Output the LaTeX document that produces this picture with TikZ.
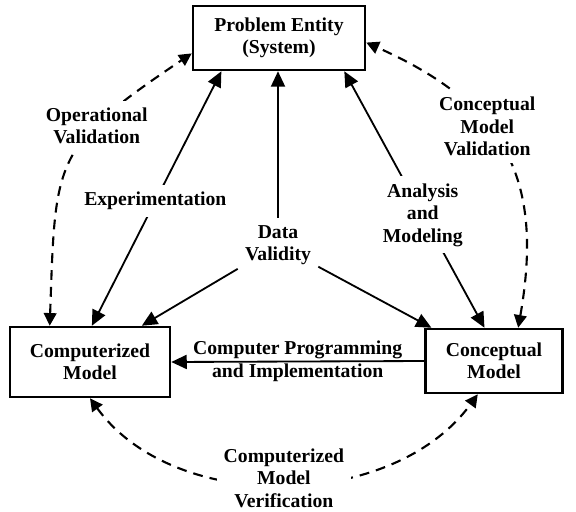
\documentclass[tikz,border=0pt]{standalone}
\usepackage{fontspec}
\setmainfont{Liberation Serif}
\usepackage{tikz}
\usetikzlibrary{arrows.meta, positioning}

\newcommand{\figfont}{\bfseries\fontsize{14}{16}\selectfont}

\begin{document}
\begin{tikzpicture}[x=0.025cm, y=-0.025cm,
    >={Triangle[length=11pt,width=10pt]},
    box/.style={draw, line width=1.8pt, align=center, font=\figfont},
    lbl/.style={align=center, font=\figfont, fill=white, inner sep=5pt},
    arr/.style={line width=1.3pt},
    varr/.style={line width=1.5pt, dash pattern=on 7pt off 5pt,
                 >={Triangle[length=9pt,width=9pt]}}
]
\useasboundingbox (0,0) rectangle (576,511);

\node[box, minimum width=4.3cm, minimum height=1.6cm]  (prob) at (279,38)  {Problem Entity\\(System)};
\node[box, minimum width=4.0cm, minimum height=1.75cm] (comp) at (90,362)  {Computerized\\Model};
\node[box, minimum width=3.43cm, minimum height=1.6cm] (conc) at (494,361) {Conceptual\\Model};

\node[lbl] (dv) at (278,245) {Data\\Validity};

% solid connectors
\draw[arr, <->] (comp.87) -- node[lbl, pos=0.49] (exp) {Experimentation} (prob.210);
\draw[arr, <->] (prob.333) -- node[lbl, pos=0.56] (am) {Analysis\\and\\Modeling} (conc.106);
\draw[arr, ->] (dv) -- (dv |- prob.south);
\draw[arr, ->] (dv) -- (comp.35);
\draw[arr, ->] (dv) -- (conc.152);
\draw[arr, ->] (conc.west) -- node[lbl, fill=none] (cpi) {Computer Programming\\and Implementation} (comp.east);

% dashed validation loops
\draw[varr, <->] (comp.138) to[out=88, in=214, looseness=1.4]
    node[lbl, pos=0.68] (opv) {Operational\\Validation} (prob.190);
\draw[varr, <->] (conc.54) to[out=80, in=336, looseness=1.2]
    node[lbl, pos=0.6] (cmv) {Conceptual\\Model\\Validation} (prob.357);
\draw[varr, <->] (comp.south) to[out=306, in=234, looseness=0.95]
    node[lbl, pos=0.5, yshift=4pt] (cmver) {Computerized\\Model\\Verification} (conc.244);
\end{tikzpicture}
\end{document}
